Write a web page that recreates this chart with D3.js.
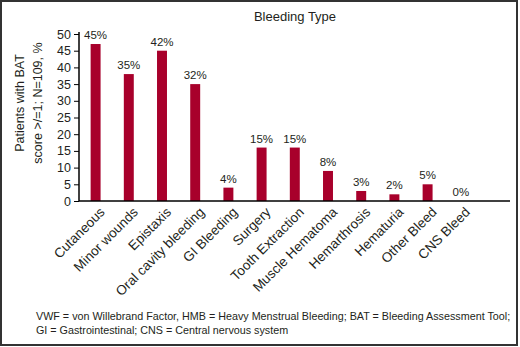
<!DOCTYPE html>
<html><head><meta charset="utf-8">
<script src="https://cdn.jsdelivr.net/npm/d3@7"></script>
<style>body{margin:0;background:#fff;} text{font-family:"Liberation Sans",Arial,sans-serif;fill:#231f20;}</style>
</head><body>
<svg id="c" width="520" height="347"></svg>
<script>
const categories = ["Cutaneous","Minor wounds","Epistaxis","Oral cavity bleeding","GI Bleeding","Surgery","Tooth Extraction","Muscle Hematoma","Hemarthrosis","Hematuria","Other Bleed","CNS Bleed"];
const barValues = [47,38,45,35,4,16,16,9,3,2,5,0];
const valueLabels = ["45%","35%","42%","32%","4%","15%","15%","8%","3%","2%","5%","0%"];
const yTicks = [0,5,10,15,20,25,30,35,40,45,50];
const title = "Bleeding Type";
const yTitle = ["Patients with BAT","score >/=1; N=109, %"];
const footnote = ["VWF = von Willebrand Factor, HMB = Heavy Menstrual Bleeding; BAT = Bleeding Assessment Tool;","GI = Gastrointestinal; CNS = Central nervous system"];

const svg = d3.select("#c");
svg.append("rect").attr("x",1).attr("y",1).attr("width",516).attr("height",344)
  .attr("fill","none").attr("stroke","#333").attr("stroke-width",2);

const x0 = 79, y0 = 201, yTop = 34;
const x = d3.scaleBand().domain(categories).range([x0, x0 + 12*33.2]).paddingInner(0.7).paddingOuter(0.35);
const y = d3.scaleLinear().domain([0,50]).range([y0, yTop]);

svg.append("text").attr("x",295).attr("y",21).attr("text-anchor","middle").attr("font-size",13).text(title);

// bars
svg.selectAll("rect.bar").data(categories).join("rect").attr("class","bar")
  .attr("x", d=>x(d)).attr("width", x.bandwidth())
  .attr("y", (d,i)=>y(barValues[i])).attr("height",(d,i)=>y0 - y(barValues[i]))
  .attr("fill","#a8002b");

// value labels
svg.selectAll("text.vl").data(categories).join("text").attr("class","vl")
  .attr("x", d=>x(d)+x.bandwidth()/2).attr("y",(d,i)=>y(barValues[i])-5)
  .attr("text-anchor","middle").attr("font-size",11.5).text((d,i)=>valueLabels[i]);

// y axis
const ya = svg.append("g").attr("transform",`translate(${x0},0)`)
  .call(d3.axisLeft(y).tickValues(yTicks).tickSize(5).tickPadding(3));
ya.select(".domain").attr("stroke","#000").attr("stroke-width",1.5).attr("d",`M0,${y0}V${yTop-2}`);
ya.selectAll(".tick line").attr("stroke","#000").attr("stroke-width",1);
ya.selectAll(".tick text").attr("font-size",12.5).attr("font-family","Liberation Sans, Arial, sans-serif").attr("fill","#231f20");

// x axis
const xa = svg.append("g").attr("transform",`translate(0,${y0})`)
  .call(d3.axisBottom(x).tickSize(0).tickPadding(0));
xa.select(".domain").attr("stroke","#000").attr("stroke-width",1.5).attr("d",`M${x0},0H510`);
xa.selectAll(".tick text").attr("font-size",13.5).attr("font-family","Liberation Sans, Arial, sans-serif").attr("fill","#231f20")
  .attr("text-anchor","end").attr("dy",null).attr("y",0)
  .attr("transform","translate(10,12) rotate(-45)");

// y title
const yt = svg.append("text").attr("transform","translate(24,103) rotate(-90)").attr("text-anchor","middle").attr("font-size",12.5);
yt.append("tspan").attr("x",0).attr("y",0).text(yTitle[0]);
yt.append("tspan").attr("x",0).attr("y",18).text(yTitle[1]);

// footnote
svg.selectAll("text.fn").data(footnote).join("text").attr("class","fn")
  .attr("x",36).attr("y",(d,i)=>320+i*14).attr("font-size",10.75).text(d=>d);
</script>
</body></html>
